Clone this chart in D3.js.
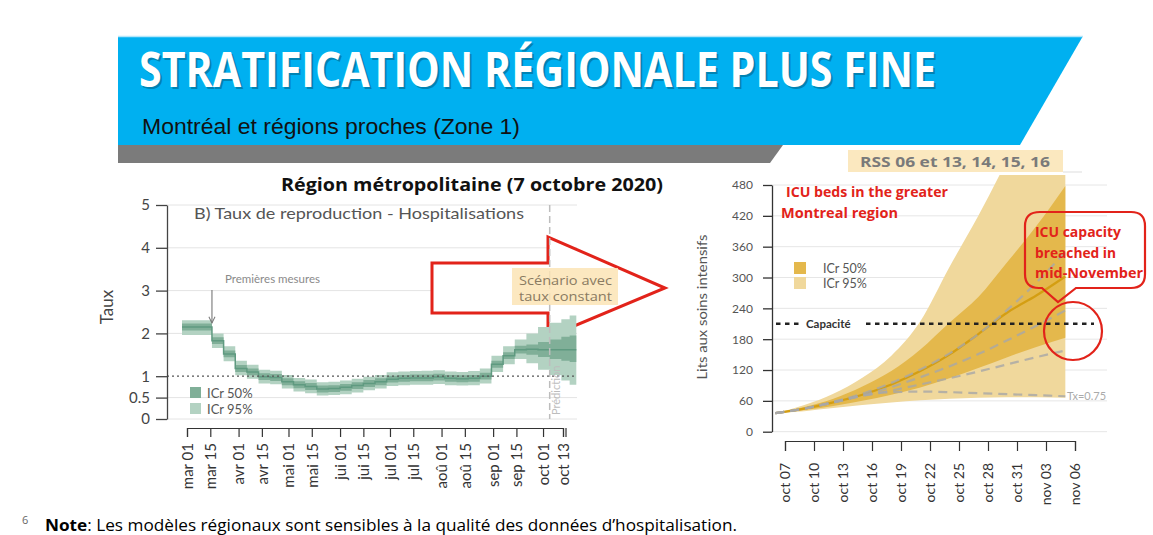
<!DOCTYPE html>
<html><head><meta charset="utf-8">
<script src="https://cdn.jsdelivr.net/npm/d3@7"></script>
<style>
html,body{margin:0;padding:0;background:#fff;}
svg{display:block;}
text{font-family:Lato, "Open Sans", sans-serif;}
</style></head>
<body>
<svg id="c" width="1153" height="535"></svg>
<script>
// ---------- DATA ----------
// Left chart: weekly reproduction number (Rt), step starts
const rtDates = ["2020-02-27","2020-03-16","2020-03-23","2020-03-30","2020-04-06","2020-04-13","2020-04-20","2020-04-27","2020-05-04","2020-05-11","2020-05-18","2020-05-25","2020-06-01","2020-06-08","2020-06-15","2020-06-22","2020-06-29","2020-07-06","2020-07-13","2020-07-20","2020-07-27","2020-08-03","2020-08-10","2020-08-17","2020-08-24","2020-08-31","2020-09-07","2020-09-14","2020-09-21","2020-09-28","2020-10-05","2020-10-12","2020-10-17"];
const rtEnd = "2020-10-21";
const rtMed  = [2.15,1.83,1.52,1.18,1.10,0.99,0.97,0.87,0.80,0.76,0.70,0.71,0.74,0.78,0.83,0.87,0.93,0.95,0.96,0.96,0.98,0.95,0.94,0.95,1.00,1.28,1.48,1.62,1.63,1.62,1.62,1.62,1.62];
const rtHi50 = [2.23,1.91,1.60,1.26,1.18,1.07,1.05,0.95,0.88,0.84,0.78,0.79,0.82,0.86,0.91,0.95,1.01,1.03,1.04,1.04,1.06,1.03,1.02,1.03,1.08,1.36,1.56,1.71,1.74,1.80,1.86,1.92,1.95];
const rtLo50 = [2.07,1.75,1.44,1.10,1.02,0.91,0.89,0.79,0.72,0.68,0.62,0.63,0.66,0.70,0.75,0.79,0.85,0.87,0.88,0.88,0.90,0.87,0.86,0.87,0.92,1.20,1.40,1.53,1.50,1.45,1.40,1.36,1.33];
const rtHi95 = [2.31,2.00,1.70,1.36,1.27,1.15,1.13,1.03,0.96,0.92,0.86,0.87,0.90,0.94,0.99,1.03,1.09,1.11,1.12,1.13,1.14,1.11,1.10,1.12,1.18,1.48,1.70,1.86,2.00,2.15,2.25,2.33,2.42];
const rtLo95 = [1.96,1.66,1.35,1.02,0.94,0.83,0.81,0.71,0.64,0.60,0.55,0.56,0.58,0.62,0.67,0.71,0.77,0.79,0.80,0.80,0.82,0.79,0.78,0.79,0.83,1.10,1.28,1.40,1.30,1.15,1.03,0.90,0.80];
const rtTickDates = ["2020-03-01","2020-03-15","2020-04-01","2020-04-15","2020-05-01","2020-05-15","2020-06-01","2020-06-15","2020-07-01","2020-07-15","2020-08-01","2020-08-15","2020-09-01","2020-09-15","2020-10-01","2020-10-13"];
const rtTickLabels = ["mar 01","mar 15","avr 01","avr 15","mai 01","mai 15","jui 01","jui 15","jul 01","jul 15","aoû 01","aoû 15","sep 01","sep 15","oct 01","oct 13"];
const rtYTicks = [0,0.5,1,2,3,4,5];
const predictionDate = "2020-10-05";
const firstMeasuresDate = "2020-03-16";

// Right chart: ICU beds projection
const icuDates = ["2020-10-06","2020-10-09","2020-10-12","2020-10-15","2020-10-18","2020-10-21","2020-10-24","2020-10-27","2020-10-30","2020-11-02","2020-11-05"];
const icuMed  = [36,45,57,72,92,118,150,190,232,265,302];
const icuHi50 = [36,48,64,88,118,160,212,262,330,400,478];
const icuLo50 = [36,42,50,60,72,86,104,124,145,165,183];
const icuHi95 = [36,52,74,105,148,215,320,420,530,650,780];
const icuLo95 = [36,40,46,52,57,61,64,66,67,67,66];
const scenA   = [36,45,58,74,95,121,152,190,237,290,350];
const scenB   = [36,45,57,71,87,106,127,151,178,206,236];
const scenC   = [36,45,57,70,80,92,104,117,131,145,158];
const scen075 = [36,45,57,70,77,78,77,75,73,71,69];
const capacity = 210;
const icuYTicks = [0,60,120,180,240,300,360,420,480];
const icuTickDates = ["2020-10-07","2020-10-10","2020-10-13","2020-10-16","2020-10-19","2020-10-22","2020-10-25","2020-10-28","2020-10-31","2020-11-03","2020-11-06"];
const icuTickLabels = ["oct 07","oct 10","oct 13","oct 16","oct 19","oct 22","oct 25","oct 28","oct 31","nov 03","nov 06"];

// ---------- DRAW ----------
const parse = d3.timeParse("%Y-%m-%d");
const svg = d3.select("#c");
svg.append("rect").attr("width",1153).attr("height",535).attr("fill","#fff");
const defs = svg.append("defs");

// Slide header
svg.append("polygon").attr("points","118,36 1083,36 1020,145 118,145").attr("fill","#00b0f0");
svg.append("line").attr("x1",118).attr("x2",1083).attr("y1",36.5).attr("y2",36.5).attr("stroke","#b5e6fa").attr("stroke-width",1.5);
svg.append("polygon").attr("points","118,145 783,145 770,163 118,163").attr("fill","#7b7b7b");
svg.append("text").attr("x",141).attr("y",89).attr("fill","#000").attr("opacity",0.25)
  .style("font-family","'Open Sans', sans-serif").style("font-weight",700).style("font-size","49px")
  .attr("textLength",797).attr("lengthAdjust","spacingAndGlyphs").text("STRATIFICATION RÉGIONALE PLUS FINE");
svg.append("text").attr("x",139).attr("y",87).attr("fill","#fff")
  .style("font-family","'Open Sans', sans-serif").style("font-weight",700).style("font-size","49px")
  .attr("textLength",797).attr("lengthAdjust","spacingAndGlyphs").text("STRATIFICATION RÉGIONALE PLUS FINE");
svg.append("text").attr("x",142).attr("y",134).attr("fill","#111")
  .style("font-family","'Liberation Sans', Arial, sans-serif").style("font-size","22px")
  .attr("textLength",378).attr("lengthAdjust","spacingAndGlyphs").text("Montréal et régions proches (Zone 1)");

// ===== LEFT CHART =====
const xL = d3.scaleTime().domain([parse("2020-03-01"), parse("2020-10-13")]).range([187,563]);
const yL = d3.scaleLinear().domain([0,5]).range([419,205]);
const gGridL = svg.append("g");

svg.append("text").attr("x",472).attr("y",191).attr("text-anchor","middle").attr("fill","#111")
  .style("font-family","'Open Sans', sans-serif").style("font-weight",700).style("font-size","18px")
  .attr("textLength",382).attr("lengthAdjust","spacingAndGlyphs").text("Région métropolitaine (7 octobre 2020)");

// gridlines
rtYTicks.filter(v => v !== 1).forEach(v => {
  gGridL.append("line").attr("x1",167).attr("x2",577).attr("y1",yL(v)).attr("y2",yL(v))
    .attr("stroke","#e4e4e4").attr("stroke-width",1);
});

// big red arrow (above gridlines, below the data)
svg.append("polygon")
  .attr("points","432,263 548,263 548,237 665,288 548,337 548,313 432,313")
  .attr("fill","#fff").attr("stroke","#e2231a").attr("stroke-width",3).attr("stroke-linejoin","miter");

const gL = svg.append("g");

// step bands
const rtPts = rtDates.map((d,i) => ({d:parse(d), i}));
rtPts.push({d:parse(rtEnd), i:rtDates.length-1});
const areaL = (lo,hi) => d3.area().curve(d3.curveStepAfter)
  .x(p => xL(p.d)).y0(p => yL(lo[p.i])).y1(p => yL(hi[p.i]));
gL.append("path").datum(rtPts).attr("d", areaL(rtLo95, rtHi95)).attr("fill","#b3d2c2");
gL.append("path").datum(rtPts).attr("d", areaL(rtLo50, rtHi50)).attr("fill","#80af98");
gL.append("path").datum(rtPts).attr("d", d3.line().curve(d3.curveStepAfter).x(p => xL(p.d)).y(p => yL(rtMed[p.i])))
  .attr("fill","none").attr("stroke","#5f9a80").attr("stroke-width",1.5);

// Rt = 1 dotted line
gL.append("line").attr("x1",167).attr("x2",577).attr("y1",yL(1)).attr("y2",yL(1))
  .attr("stroke","#555").attr("stroke-width",1.2).attr("stroke-dasharray","2,3");

// prediction line
const xp = xL(parse(predictionDate));
gL.append("line").attr("x1",xp).attr("x2",xp).attr("y1",yL(5)).attr("y2",yL(0))
  .attr("stroke","#bdbdbd").attr("stroke-width",1.5).attr("stroke-dasharray","7,4");
gL.append("text").attr("transform",`translate(${xp+10},${yL(0)-4}) rotate(-90)`)
  .attr("fill","#bdbdbd").style("font-size","11px").text("Prédiction");

// scenario label
gL.append("rect").attr("x",512).attr("y",268).attr("width",106).attr("height",37).attr("fill","#fbe4b5").attr("opacity",0.85);
gL.append("text").attr("x",519).attr("y",285).attr("fill","#8a7b62").style("font-family","'Open Sans', sans-serif").style("font-size","13.5px")
  .attr("textLength",93).attr("lengthAdjust","spacingAndGlyphs").text("Scénario avec");
gL.append("text").attr("x",519).attr("y",301).attr("fill","#8a7b62").style("font-family","'Open Sans', sans-serif").style("font-size","13.5px")
  .attr("textLength",93).attr("lengthAdjust","spacingAndGlyphs").text("taux constant");

// Premières mesures annotation
const xm = xL(parse(firstMeasuresDate));
gL.append("text").attr("x",225).attr("y",283).attr("fill","#8a8a8a").style("font-size","11.5px").text("Premières mesures");
defs.append("marker").attr("id","ah").attr("viewBox","0 0 10 10").attr("refX",9).attr("refY",5)
  .attr("markerWidth",7).attr("markerHeight",7).attr("orient","auto")
  .append("path").attr("d","M1,1 L9,5 L1,9").attr("fill","none").attr("stroke","#777").attr("stroke-width",1.3);
gL.append("line").attr("x1",xm).attr("x2",xm).attr("y1",290).attr("y2",323).attr("stroke","#777").attr("stroke-width",1.1).attr("marker-end","url(#ah)");

// subtitle
gL.append("text").attr("x",194).attr("y",219).attr("fill","#555").style("font-size","16px")
  .attr("textLength",330).attr("lengthAdjust","spacingAndGlyphs").text("B) Taux de reproduction - Hospitalisations");

// y axis
const yAxL = gL.append("g").attr("transform","translate(167,0)")
  .call(d3.axisLeft(yL).tickValues(rtYTicks).tickFormat(d => String(d)).tickSize(11).tickSizeOuter(0));
yAxL.selectAll("path,line").attr("stroke","#444").attr("stroke-width",1.3);
yAxL.selectAll("text").attr("fill","#444").style("font-size","15px").attr("x",-17).style("font-family","Lato, sans-serif");
gL.append("text").attr("transform","translate(113,307) rotate(-90)").attr("text-anchor","middle")
  .attr("fill","#444").style("font-size","17px").text("Taux");

// x axis
const xAxL = gL.append("g").attr("transform","translate(0,428)")
  .call(d3.axisBottom(xL).tickValues(rtTickDates.map(parse)).tickFormat((d,i) => rtTickLabels[i]).tickSize(9).tickSizeOuter(9));
xAxL.selectAll("path,line").attr("stroke","#333").attr("stroke-width",1.2);
xAxL.selectAll("text").attr("y",0).attr("x",-15).attr("dy","0.35em").attr("transform","rotate(-90)")
  .style("text-anchor","end").attr("fill","#333").style("font-size","15px").style("font-family","Lato, sans-serif");
gL.append("line").attr("x1",566).attr("x2",566).attr("y1",428).attr("y2",437).attr("stroke","#333").attr("stroke-width",1.2);

// legend
gL.append("rect").attr("x",190).attr("y",387).attr("width",11).attr("height",11).attr("fill","#80af98");
gL.append("rect").attr("x",190).attr("y",403).attr("width",11).attr("height",11).attr("fill","#b3d2c2");
gL.append("text").attr("x",207).attr("y",398).attr("fill","#555").style("font-size","13px").text("ICr 50%");
gL.append("text").attr("x",207).attr("y",414).attr("fill","#555").style("font-size","13px").text("ICr 95%");

// ===== RIGHT CHART =====
const xR = d3.scaleTime().domain([parse("2020-10-07"), parse("2020-11-06")]).range([785,1075]);
const yR = d3.scaleLinear().domain([0,480]).range([431.7,185]);
const gR = svg.append("g");

// header
gR.append("rect").attr("x",848).attr("y",150).attr("width",215).attr("height",22).attr("fill","#fbe8bf");
gR.append("line").attr("x1",1063).attr("x2",1082).attr("y1",172).attr("y2",172).attr("stroke","#ddd");
gR.append("text").attr("x",955).attr("y",167).attr("text-anchor","middle").attr("fill","#7a7a7a")
  .style("font-family","'Open Sans', sans-serif").style("font-weight",700).style("font-size","14px")
  .attr("textLength",190).attr("lengthAdjust","spacingAndGlyphs").text("RSS 06 et 13, 14, 15, 16");

// gridlines
icuYTicks.forEach(v => {
  gR.append("line").attr("x1",772).attr("x2",1107).attr("y1",yR(v)).attr("y2",yR(v)).attr("stroke","#e6e6e6");
});

defs.append("clipPath").attr("id","clipR").append("rect").attr("x",772).attr("y",175).attr("width",340).attr("height",260);
const icuPts = icuDates.map((d,i) => ({d:parse(d), i}));
const gClip = gR.append("g").attr("clip-path","url(#clipR)");
const areaR = (lo,hi) => d3.area().curve(d3.curveMonotoneX).x(p => xR(p.d)).y0(p => yR(lo[p.i])).y1(p => yR(hi[p.i]));
gClip.append("path").datum(icuPts).attr("d", areaR(icuLo95, icuHi95)).attr("fill","#f0d89c");
gClip.append("path").datum(icuPts).attr("d", areaR(icuLo50, icuHi50)).attr("fill","#e4b84c");
const lineR = arr => d3.line().curve(d3.curveMonotoneX).x(p => xR(p.d)).y(p => yR(arr[p.i]));
gClip.append("path").datum(icuPts).attr("d", lineR(icuMed)).attr("fill","none").attr("stroke","#d49e12").attr("stroke-width",2.2);
[scenA, scenB, scenC, scen075].forEach(s => {
  gClip.append("path").datum(icuPts).attr("d", lineR(s)).attr("fill","none")
    .attr("stroke","#a8a8a8").attr("stroke-opacity",0.8).attr("stroke-width",2.2).attr("stroke-dasharray","9,6");
});
gR.append("text").attr("x",1067).attr("y",yR(scen075[scen075.length-1])+4).attr("fill","#aaa").style("font-size","11px").text("Tx=0.75");

// capacity
gR.append("line").attr("x1",776).attr("x2",1094).attr("y1",yR(capacity)).attr("y2",yR(capacity))
  .attr("stroke","#222").attr("stroke-width",2.5).attr("stroke-dasharray","4.5,4.5");
gR.append("rect").attr("x",801).attr("y",yR(capacity)-8).attr("width",63).attr("height",16).attr("fill","#fff");
gR.append("text").attr("x",806).attr("y",yR(capacity)+4).attr("fill","#333").style("font-size","11.5px").style("font-weight",700).text("Capacité");

// legend
gR.append("rect").attr("x",794).attr("y",262).attr("width",12).attr("height",12).attr("fill","#e4b84c");
gR.append("rect").attr("x",794).attr("y",277).attr("width",12).attr("height",12).attr("fill","#f0d89c");
gR.append("text").attr("x",823).attr("y",273).attr("fill","#555").style("font-size","12.5px").text("ICr 50%");
gR.append("text").attr("x",823).attr("y",288).attr("fill","#555").style("font-size","12.5px").text("ICr 95%");

// y axis
const yAxR = gR.append("g").attr("transform","translate(772,0)")
  .call(d3.axisLeft(yR).tickValues(icuYTicks).tickSize(9).tickSizeOuter(0));
yAxR.selectAll("path,line").attr("stroke","#333").attr("stroke-width",1.3);
yAxR.selectAll("text").attr("fill","#555").style("font-size","12px").attr("x",-19).style("font-family","Lato, sans-serif");
gR.append("text").attr("transform","translate(707,307) rotate(-90)").attr("text-anchor","middle")
  .attr("fill","#555").style("font-size","13px").attr("textLength",145).attr("lengthAdjust","spacingAndGlyphs").text("Lits aux soins intensifs");

// x axis
const xAxR = gR.append("g").attr("transform","translate(0,441)")
  .call(d3.axisBottom(xR).tickValues(icuTickDates.map(parse)).tickFormat((d,i) => icuTickLabels[i]).tickSize(10).tickSizeOuter(10));
xAxR.selectAll("path,line").attr("stroke","#333").attr("stroke-width",1.2);
xAxR.selectAll("text").attr("y",0).attr("x",-22).attr("dy","0.35em").attr("transform","rotate(-90)")
  .style("text-anchor","end").attr("fill","#333").style("font-size","14px").style("font-family","Lato, sans-serif");

// red annotations
const red = "#e2231a";
const redText = (x,y,w,t) => svg.append("text").attr("x",x).attr("y",y).attr("fill",red)
  .style("font-family","'Open Sans', sans-serif").style("font-weight",700).style("font-size","14.5px")
  .attr("textLength",w).attr("lengthAdjust","spacingAndGlyphs").text(t);
redText(786,197,162,"ICU beds in the greater");
redText(781,218,117,"Montreal  region");
svg.append("path")
  .attr("d","M1040,212 H1131 Q1145,212 1145,226 V274 Q1145,288 1131,288 H1076 L1058,302 L1042,288 H1039 Q1025,288 1025,274 V226 Q1025,212 1040,212 Z")
  .attr("fill","none").attr("stroke",red).attr("stroke-width",2.2);
redText(1035,237,86,"ICU capacity");
redText(1035,258,81,"breached in");
redText(1035,278,108,"mid-November");
svg.append("circle").attr("cx",1073).attr("cy",331).attr("r",29).attr("fill","none").attr("stroke",red).attr("stroke-width",2.2);

// footnote
svg.append("text").attr("x",22).attr("y",524).attr("fill","#666").style("font-size","11px").style("font-family","'Open Sans', sans-serif").text("6");
const fn = svg.append("text").attr("x",45).attr("y",531).attr("fill","#000")
  .style("font-family","'Open Sans', sans-serif").style("font-size","16px")
  .attr("textLength",692).attr("lengthAdjust","spacingAndGlyphs");
fn.append("tspan").style("font-weight",700).text("Note");
fn.append("tspan").text(": Les modèles régionaux sont sensibles à la qualité des données d’hospitalisation.");
</script>
</body></html>
